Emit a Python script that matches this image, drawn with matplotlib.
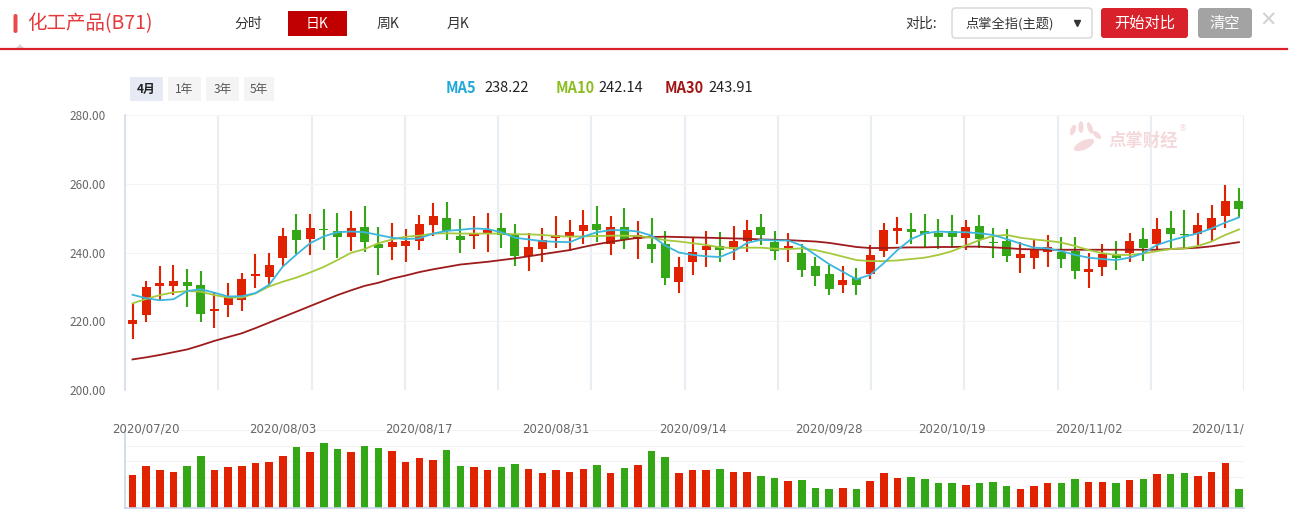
import matplotlib
matplotlib.use('Agg')
import matplotlib.pyplot as plt
from matplotlib.patches import Rectangle, FancyBboxPatch, Ellipse, Polygon

plt.rcParams['font.family'] = ['Noto Sans CJK SC', 'DejaVu Sans']

# daily candles 2020/07/17 .. 2020/11/17
opens = [219.2, 221.8, 230.3, 230.3, 231.4, 230.5, 223.0, 224.6, 226.3, 233.2,
         233.0, 238.5, 246.5, 244.0, 246.9, 246.3, 244.6, 247.4, 242.5, 241.7,
         242.0, 243.4, 248.1, 250.0, 244.8, 244.9, 245.5, 247.1, 245.1, 239.1,
         241.1, 244.3, 244.4, 246.4, 248.3, 242.6, 247.4, 244.0, 242.5, 242.5,
         231.5, 237.1, 240.8, 241.9, 241.1, 243.4, 247.4, 243.0, 241.4, 239.9,
         236.1, 233.7, 230.6, 232.6, 233.7, 240.5, 246.4, 246.8, 246.3, 245.7,
         246.3, 244.2, 247.7, 243.1, 243.4, 238.4, 238.4, 240.2, 240.2, 240.5,
         234.3, 235.9, 239.4, 240.0, 243.9, 242.6, 247.1, 245.4, 245.4, 246.5,
         250.7, 255.0]
highs = [225.2, 231.7, 236.2, 236.4, 235.2, 234.6, 228.1, 231.2, 234.1, 239.6,
         239.9, 247.2, 251.2, 251.2, 252.7, 251.5, 252.2, 253.5, 247.4, 248.6,
         246.8, 250.9, 254.4, 254.7, 249.8, 250.6, 251.5, 251.5, 248.3, 245.7,
         247.1, 250.6, 249.5, 252.4, 253.5, 250.6, 253.0, 249.2, 250.0, 246.3,
         238.7, 244.5, 246.3, 246.0, 247.7, 249.5, 251.2, 246.3, 245.7, 242.5,
         238.7, 236.4, 236.1, 235.5, 242.2, 248.6, 250.3, 251.5, 251.2, 249.8,
         250.9, 249.5, 250.9, 247.1, 246.8, 243.0, 243.9, 245.1, 244.5, 244.5,
         239.9, 242.5, 243.3, 245.7, 247.1, 250.0, 252.1, 252.4, 251.5, 253.8,
         259.6, 258.8]
lows = [214.8, 219.9, 226.2, 227.6, 224.2, 219.9, 218.1, 221.3, 223.0, 229.8,
        230.6, 235.9, 239.6, 239.3, 240.8, 238.5, 240.4, 240.2, 233.6, 237.9,
        237.3, 240.7, 244.8, 243.6, 239.9, 241.0, 240.1, 241.3, 236.2, 234.7,
        237.3, 241.3, 240.4, 242.5, 243.1, 239.3, 241.0, 238.1, 236.9, 230.6,
        228.3, 233.6, 235.9, 237.1, 237.9, 240.2, 242.3, 237.9, 237.3, 233.0,
        230.4, 227.7, 228.3, 227.7, 232.4, 238.8, 242.6, 242.5, 241.4, 241.1,
        241.4, 240.8, 241.4, 238.5, 237.1, 234.0, 235.2, 235.8, 235.5, 232.4,
        229.7, 233.3, 235.0, 237.2, 237.6, 240.8, 241.4, 241.3, 241.9, 243.4,
        247.2, 250.3]
closes = [220.4, 230.0, 231.2, 231.7, 230.3, 222.2, 223.6, 227.2, 232.3, 233.7,
          236.4, 244.8, 243.7, 247.2, 246.6, 244.6, 247.1, 243.2, 241.4, 243.0,
          243.3, 248.3, 250.6, 246.4, 243.7, 245.7, 246.5, 245.1, 238.9, 241.6,
          243.5, 245.1, 246.0, 248.0, 246.5, 247.4, 243.6, 245.1, 241.1, 232.7,
          235.8, 240.2, 241.9, 240.8, 243.3, 246.5, 245.2, 240.3, 241.7, 235.0,
          233.3, 229.5, 232.0, 230.6, 239.3, 246.5, 247.1, 246.1, 245.4, 244.5,
          244.5, 247.4, 243.9, 242.8, 239.0, 239.6, 241.0, 241.7, 238.1, 234.7,
          235.2, 239.6, 238.5, 243.3, 241.4, 246.8, 245.5, 245.1, 248.0, 250.0,
          255.0, 252.8]
ma5 = [227.7, 226.7, 226.1, 226.4, 228.8, 229.3, 228.3, 227.2, 227.3, 228.2,
       230.6, 235.9, 239.4, 242.7, 244.7, 245.9, 246.1, 245.9, 245.1, 244.3,
       243.9, 244.1, 245.5, 246.3, 246.6, 247.0, 246.8, 245.9, 244.3, 243.8,
       243.3, 243.1, 243.0, 244.6, 245.9, 246.5, 246.5, 246.1, 244.9, 242.0,
       240.0, 239.3, 238.9, 238.7, 240.3, 242.8, 243.7, 243.5, 243.5, 242.0,
       239.3, 236.6, 234.4, 232.2, 233.5, 236.9, 240.7, 243.9, 245.6, 246.1,
       245.9, 245.9, 245.6, 245.1, 243.9, 242.6, 241.4, 241.2, 240.4, 239.3,
       238.5, 238.1, 237.8, 238.5, 239.8, 242.2, 243.5, 244.6, 245.6, 247.0,
       248.7, 250.2]
ma10 = [225.2, 226.5, 227.6, 228.4, 228.8, 228.6, 227.6, 226.9, 226.9, 228.1,
        230.1, 231.5, 232.7, 234.2, 235.8, 237.8, 239.9, 241.0, 242.7, 243.8,
        244.6, 244.9, 245.5, 245.6, 245.5, 245.5, 245.5, 245.5, 245.3, 245.3,
        245.1, 244.8, 244.6, 244.7, 244.8, 244.9, 244.9, 244.8, 244.3, 243.6,
        243.2, 242.7, 242.2, 241.5, 241.3, 241.4, 241.4, 241.1, 241.0, 241.2,
        240.7, 239.8, 238.8, 237.8, 237.5, 237.5, 237.7, 238.1, 238.5, 239.3,
        240.4, 242.0, 243.6, 244.8, 245.1, 244.3, 243.8, 243.4, 242.9, 241.9,
        240.7, 239.8, 239.3, 239.3, 239.7, 240.4, 241.0, 241.2, 241.9, 243.2,
        245.1, 246.7]
ma30 = [208.9, 209.5, 210.2, 211.0, 211.8, 213.0, 214.3, 215.4, 216.5, 218.0,
        219.6, 221.2, 222.8, 224.4, 226.0, 227.6, 229.0, 230.3, 231.2, 232.4,
        233.3, 234.3, 235.1, 235.8, 236.5, 236.9, 237.3, 237.8, 238.3, 238.9,
        239.5, 240.1, 240.7, 241.6, 242.4, 243.1, 243.7, 244.3, 244.5, 244.6,
        244.5, 244.4, 244.3, 244.2, 244.1, 244.0, 243.8, 243.7, 243.6, 243.4,
        243.2, 242.8, 242.2, 241.6, 241.3, 241.3, 241.4, 241.5, 241.5, 241.6,
        241.6, 241.7, 241.7, 241.5, 241.3, 241.0, 240.9, 240.8, 240.8, 240.8,
        240.8, 240.8, 240.8, 240.8, 240.8, 240.8, 241.0, 241.2, 241.4, 241.8,
        242.4, 243.0]
volumes = [98, 128, 113, 107, 128, 158, 113, 125, 128, 137,
           140, 158, 185, 170, 197, 179, 170, 188, 182, 173,
           140, 152, 146, 176, 128, 125, 113, 125, 134, 116,
           104, 113, 107, 116, 131, 104, 122, 131, 173, 155,
           104, 113, 113, 116, 107, 107, 95, 89, 80, 83,
           59, 56, 59, 56, 80, 104, 89, 92, 86, 74,
           74, 68, 74, 77, 65, 56, 65, 74, 74, 86,
           77, 77, 74, 83, 86, 101, 101, 104, 95, 107,
           137, 56]
date_idx = [1, 11, 21, 31, 41, 51, 60, 70, 80]
date_lbl = ['2020/07/20', '2020/08/03', '2020/08/17', '2020/08/31', '2020/09/14',
            '2020/09/28', '2020/10/19', '2020/11/02', '2020/11/16']
price_ticks = [200, 220, 240, 260, 280]

RED = '#e02200'
GREEN = '#33a716'
W, H = 1293, 512
STEP = 13.66  # pixels per candle


def px_rect(x0, y0, x1, y1):
    return [x0 / W, 1 - y1 / H, (x1 - x0) / W, (y1 - y0) / H]


fig = plt.figure(figsize=(W / 100, H / 100), dpi=100)
fig.patch.set_facecolor('white')

n = len(closes)
xs = list(range(n))
xlim = (-0.55, 81.37)
cols = [RED if c >= o else GREEN for o, c in zip(opens, closes)]

# price panel
ax = fig.add_axes(px_rect(125, 115, 1244, 390))
ax.set_xlim(*xlim)
ax.set_ylim(200, 280)
for k in range(1, 13):
    ax.plot([k / 12, k / 12], [0, 1], transform=ax.transAxes, color='#e9eef4', lw=1.6, zorder=0)
for t in price_ticks:
    ax.axhline(t, color='#f4f4f4', lw=0.8, zorder=0)

ax.vlines(xs, lows, highs, colors=cols, lw=1.5, zorder=2)
bottoms = [min(o, c) for o, c in zip(opens, closes)]
heights = [max(abs(c - o), 0.35) for o, c in zip(opens, closes)]
ax.bar(xs, heights, bottom=bottoms, width=0.66, color=cols, zorder=3)

ax.plot(xs, ma30, color='#9e1b1b', lw=1.3, zorder=4)
ax.plot(xs, ma10, color='#a6c93c', lw=1.3, zorder=4)
ax.plot(xs, ma5, color='#3bb6dc', lw=1.3, zorder=4)

ax.set_yticks(price_ticks)
ax.set_yticklabels(['%.2f' % t for t in price_ticks])
ax.tick_params(axis='y', length=0, pad=14, labelsize=8.5, labelcolor='#666666')
ax.set_xticks([])
for s in ['top', 'right', 'bottom']:
    ax.spines[s].set_visible(False)
ax.spines['left'].set_color('#d3dbe8')
ax.spines['left'].set_linewidth(1.2)

# volume panel
vx = fig.add_axes(px_rect(125, 430, 1244, 508))
vx.patch.set_alpha(0)
vx.set_xlim(*xlim)
vx.set_ylim(0, 235)
for g in [47, 94, 141, 188, 235]:
    vx.axhline(g, color='#f3f3f3', lw=0.8, zorder=0)
vx.bar(xs, volumes, width=0.55, color=cols, zorder=2)
vx.set_xticks([])
vx.set_yticks([])
for s in ['top', 'right']:
    vx.spines[s].set_visible(False)
for s in ['left', 'bottom']:
    vx.spines[s].set_color('#c8d5ea')
    vx.spines[s].set_linewidth(1.2)

# date labels between panels, clipped only at the right plot edge
lab = fig.add_axes(px_rect(95, 416, 1244, 442))
lab.set_xlim(xlim[0] - 30 / STEP, xlim[1])
lab.set_ylim(0, 1)
lab.axis('off')
for i, s in zip(date_idx, date_lbl):
    t = lab.text(i, 0.5, s, ha='center', va='center', fontsize=8.5,
                 color='#666666', family=['DejaVu Sans'])
    t.set_clip_on(True)
    t.set_clip_box(lab.bbox)

# header / controls drawn in pixel coordinates
ov = fig.add_axes([0, 0, 1, 1])
ov.set_xlim(0, W)
ov.set_ylim(H, 0)
ov.axis('off')

ov.add_patch(FancyBboxPatch((13.5, 14), 4, 19, boxstyle='round,pad=0,rounding_size=2',
                            fc='#e8494b', ec='none'))
ov.text(27, 24, '化工产品(B71)', fontsize=14, color='#e4393c', va='center', ha='left')
ov.plot([0, 1287], [49, 49], color='#d9212b', lw=1.6)
ov.add_patch(Polygon([[16, 48], [20, 44], [24, 48]], closed=True, fc='#d8d8d8', ec='none'))

ov.text(248, 24, '分时', fontsize=10, color='#333333', ha='center', va='center')
ov.add_patch(Rectangle((288, 11), 59, 25, fc='#c00000', ec='none'))
ov.text(317.5, 24, '日K', fontsize=10, color='white', ha='center', va='center')
ov.text(388, 24, '周K', fontsize=10, color='#333333', ha='center', va='center')
ov.text(458, 24, '月K', fontsize=10, color='#333333', ha='center', va='center')

ov.text(921, 24, '对比:', fontsize=10, color='#333333', ha='center', va='center')
ov.add_patch(FancyBboxPatch((952, 8), 140, 30, boxstyle='round,pad=0,rounding_size=3',
                            fc='white', ec='#cccccc', lw=0.8))
ov.text(965, 23.5, '点掌全指(主题)', fontsize=9.5, color='#333333', ha='left', va='center')
ov.plot([1077], [23], marker='v', ms=4.5, color='#333333')
ov.add_patch(FancyBboxPatch((1101, 8), 87, 30, boxstyle='round,pad=0,rounding_size=3',
                            fc='#d9212b', ec='none'))
ov.text(1144.5, 23.5, '开始对比', fontsize=11, color='white', ha='center', va='center')
ov.add_patch(FancyBboxPatch((1198, 8), 54, 30, boxstyle='round,pad=0,rounding_size=3',
                            fc='#a3a3a3', ec='none'))
ov.text(1225, 23.5, '清空', fontsize=11, color='white', ha='center', va='center')
ov.text(1268, 21, '✕', fontsize=15, color='#d2d2d2', ha='center', va='center',
        family=['DejaVu Sans'], fontweight='bold')

# range buttons
for x0, x1, s, active in [(130, 163, '4月', True), (168, 201, '1年', False),
                          (206, 239, '3年', False), (244, 274, '5年', False)]:
    ov.add_patch(Rectangle((x0, 77), x1 - x0, 24, fc='#e5eaf5' if active else '#f4f4f4', ec='none'))
    ov.text((x0 + x1) / 2, 89, s, fontsize=8.5, ha='center', va='center',
            color='#222222' if active else '#555555', fontweight='bold' if active else 'normal')

# MA legend
for x0, name, c, x1, val in [(446, 'MA5', '#22a8d8', 484, '238.22'),
                             (556, 'MA10', '#8cbd23', 598, '242.14'),
                             (665, 'MA30', '#a31515', 708, '243.91')]:
    ov.text(x0, 88, name, fontsize=10.5, color=c, fontweight='bold', ha='left', va='center')
    ov.text(x1, 88, val, fontsize=10.5, color='#222222', ha='left', va='center')

# watermark
wm = '#f4d8db'
for cx, cy, w, h, a in [(1073, 130, 5, 11, 20), (1081, 127, 5, 12, 0),
                        (1090, 128, 5, 12, -20), (1097, 135, 5, 10, -45)]:
    ov.add_patch(Ellipse((cx, cy), w, h, angle=a, fc=wm, ec='none'))
ov.add_patch(Ellipse((1084, 145), 22, 9, angle=-25, fc=wm, ec='none'))
ov.text(1143, 141, '点掌财经', fontsize=12.5, color=wm, fontweight='bold', ha='center', va='center')
ov.text(1183, 129, '®', fontsize=6, color=wm, ha='center', va='center', family=['DejaVu Sans'])

fig.savefig('out.png', dpi=100)
